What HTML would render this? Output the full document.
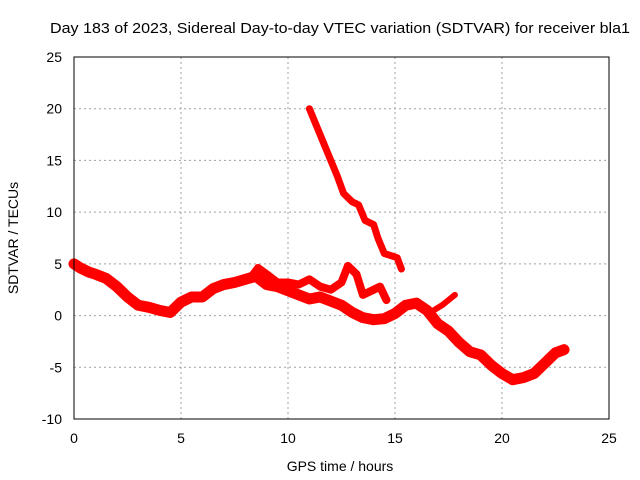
<!DOCTYPE html>
<html><head><meta charset="utf-8"><style>
body{margin:0;background:#fff}
svg{display:block;font-family:"Liberation Sans",sans-serif}
</style></head><body>
<svg id="chart" width="640" height="480">
<rect width="640" height="480" fill="#fff"/>
<text x="50" y="33" font-size="15" textLength="580" lengthAdjust="spacingAndGlyphs">Day 183 of 2023, Sidereal Day-to-day VTEC variation (SDTVAR) for receiver bla1</text>
<g id="grid"></g>
<g id="series"></g>
<rect x="74" y="57" width="535" height="362" fill="none" stroke="#000" stroke-width="1"/>
<g id="ticks"></g>
<text x="340" y="471" font-size="14" text-anchor="middle">GPS time / hours</text>
<text transform="translate(18,238) rotate(-90)" font-size="14" text-anchor="middle">SDTVAR / TECUs</text>
</svg>
<script>
const xTicks=[0,5,10,15,20,25];
const yTicks=[-10,-5,0,5,10,15,20,25];
const mainT=[0,0.3,0.7,1,1.5,2,2.5,3,3.5,4,4.5,5,5.5,6,6.5,7,7.5,8,8.5,9,9.5,10,10.5,11,11.5,12,12.5,13,13.5,14,14.5,15,15.5,16,16.5,17,17.5,18,18.5,19,19.5,20,20.5,21,21.5,22,22.5,22.9];
const mainV=[5,4.6,4.2,4.0,3.6,2.8,1.8,1.0,0.8,0.5,0.3,1.3,1.8,1.8,2.6,3,3.2,3.5,3.8,3.0,2.8,2.4,2.0,1.6,1.8,1.4,1.0,0.3,-0.2,-0.4,-0.3,0.2,1.0,1.2,0.5,-0.8,-1.5,-2.6,-3.5,-3.8,-4.8,-5.6,-6.2,-6.0,-5.6,-4.6,-3.6,-3.3];
const upperT=[8.2,8.6,9,9.5,10,10.5,11,11.5,12,12.5,12.8,13.2,13.5,14,14.3,14.6];
const upperV=[3.5,4.6,4.0,3.2,3.2,3.0,3.5,2.8,2.5,3.2,4.8,4.0,2.0,2.5,2.8,1.5];
const branchT=[16.8,17.2,17.5,17.8];
const branchV=[0.5,1.0,1.5,2.0];
const decayT=[11,11.3,11.6,12,12.3,12.6,13,13.3,13.6,14,14.2,14.5,14.8,15.1,15.3];
const decayV=[20,18.5,17,15,13.5,11.8,11,10.7,9.2,8.8,7.5,6,5.8,5.6,4.5];
const X=t=>74+t*535/25, Y=v=>419-(v+10)*362/35;
const NS="http://www.w3.org/2000/svg";
const grid=document.getElementById('grid'),ticks=document.getElementById('ticks'),ser=document.getElementById('series');
xTicks.forEach(t=>{
 if(t>0&&t<25){const l=document.createElementNS(NS,'line');l.setAttribute('x1',X(t));l.setAttribute('x2',X(t));l.setAttribute('y1',57);l.setAttribute('y2',419);l.setAttribute('stroke','#a0a0a0');l.setAttribute('stroke-dasharray','2,3');
 
 
 grid.appendChild(l);}
 const tx=document.createElementNS(NS,'text');tx.setAttribute('x',X(t));tx.setAttribute('y',443);tx.setAttribute('font-size','14');tx.setAttribute('text-anchor','middle');tx.textContent=t;
 
 
 ticks.appendChild(tx);
});
yTicks.forEach(v=>{
 if(v>-10&&v<25){const l=document.createElementNS(NS,'line');l.setAttribute('x1',74);l.setAttribute('x2',609);l.setAttribute('y1',Y(v));l.setAttribute('y2',Y(v));l.setAttribute('stroke','#a0a0a0');l.setAttribute('stroke-dasharray','2,3');
 
 
 grid.appendChild(l);}
 const tx=document.createElementNS(NS,'text');tx.setAttribute('x',62);tx.setAttribute('y',Y(v)+5);tx.setAttribute('font-size','14');tx.setAttribute('text-anchor','end');tx.textContent=v;
 
 
 ticks.appendChild(tx);
});
function draw(ts,vs,name,w){
 const p=document.createElementNS(NS,'polyline');
 p.setAttribute('points',ts.map((t,i)=>X(t)+','+Y(vs[i])).join(' '));
 p.setAttribute('fill','none');p.setAttribute('stroke','#ff0000');p.setAttribute('stroke-width',w);p.setAttribute('stroke-linejoin','round');p.setAttribute('stroke-linecap','round');
 
 
 ser.appendChild(p);
}
draw(mainT,mainV,'sdtvar-main-series',11);
draw(upperT,upperV,'sdtvar-upper-branch',8);
draw(branchT,branchV,'sdtvar-branch-17h',6);
draw(decayT,decayV,'sdtvar-decay-series',7);
</script>
</body></html>
